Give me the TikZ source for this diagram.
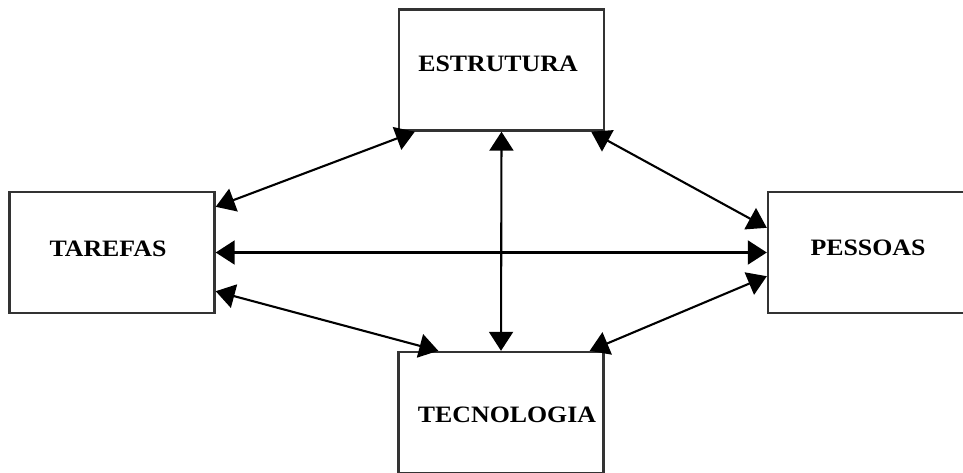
\documentclass[tikz,border=0pt]{standalone}
\usepackage{fontspec}
\setmainfont{Liberation Serif}[FakeStretch=1.1]
\usetikzlibrary{arrows.meta,calc}
\begin{document}
\begin{tikzpicture}[x=1pt,y=-1pt,
  box/.style={draw=black!80,line width=2.4pt,fill=white,inner sep=0pt,
    minimum width=205pt,minimum height=121pt},
  word/.style={inner sep=0pt,font=\fontsize{23.5}{26}\selectfont\bfseries},
  link/.style={line width=2.1pt,black,
    {Triangle[length=19pt,width=24pt]}-{Triangle[length=19pt,width=24pt]}}]
  \path[use as bounding box] (0,0) rectangle (963,472);
  \clip (0,0) rectangle (963,472);

  % the four boxes
  \node[box] (est) at (501.5,70) {};
  \node[box] (tar) at (112,252.5) {};
  \node[box] (pes) at (870.5,252.5) {};
  \node[box] (tec) at (501,412.5) {};

  % their captions
  \node[word] (estT) at (498,64) {ESTRUTURA};
  \node[word] (tarT) at (108,249) {TAREFAS};
  \node[word] (pesT) at (868,248) {PESSOAS};
  \node[word] (tecT) at (507,415) {TECNOLOGIA};

  % double-headed links between the boxes
  \draw[link] ($(tar.north east)+(0,16)$) -- ($(est.south west)+(17,0)$);
  \draw[link] (tar.east) -- (pes.west);
  \draw[link] ($(tar.south east)+(0,-23)$) -- ($(tec.north west)+(41,0)$);
  \draw[link] (est.south) -- (tec.north);
  \draw[link] ($(est.south east)+(-14,0)$) -- ($(pes.north west)+(0,37)$);
  \draw[link] ($(pes.south west)+(0,-38)$) -- ($(tec.north east)+(-15,0)$);
\end{tikzpicture}
\end{document}
